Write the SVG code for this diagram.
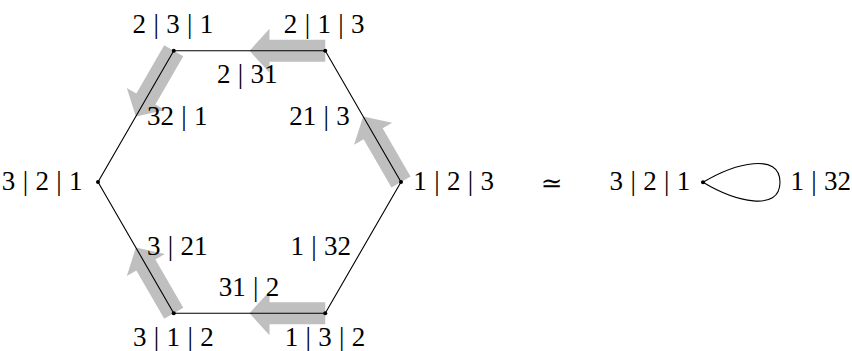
<svg xmlns="http://www.w3.org/2000/svg" xmlns:xlink="http://www.w3.org/1999/xlink" width="852" height="351" viewBox="0 0 852 351">
<style>
.lbl{font-family:"Liberation Serif","Times New Roman",serif;font-size:27px;fill:#000;text-anchor:middle;word-spacing:0.6px}
.sym{font-family:"DejaVu Serif","Liberation Serif",serif;font-size:26px;fill:#000;text-anchor:middle}
.edge{fill:none;stroke:#000;stroke-width:1.1}
.arr{fill:#bfbfbf;stroke:none}
.dot{fill:#000}
</style>
<defs>
<path id="ga" class="arr" d="M0,-11 H55.75 V-22 L75.75,0 L55.75,22 V11 H0 Z"/>
</defs>
<g id="flow-arrows">
<use xlink:href="#ga" href="#ga" transform="translate(325.25,50.8) rotate(180)"/>
<use xlink:href="#ga" href="#ga" transform="translate(173.75,50.8) rotate(120)"/>
<use xlink:href="#ga" href="#ga" transform="translate(401,182) rotate(-120)"/>
<use xlink:href="#ga" href="#ga" transform="translate(325.25,313.2) rotate(180)"/>
<use xlink:href="#ga" href="#ga" transform="translate(173.75,313.2) rotate(-120)"/>
</g>
<g id="connectors">
<path class="edge" d="M173.75,50.8 L325.25,50.8 L401,182 L325.25,313.2 L173.75,313.2 L98,182 Z"/>
<path class="edge" d="M703,182.3 C735,163 780,152 780,182.3 C780,212.6 735,201.6 703,182.3 Z"/>
</g>
<g id="node-231"><circle class="dot" cx="173.75" cy="50.8" r="2"/><text class="lbl" x="172.9" y="33">2 | 3 | 1</text></g>
<g id="node-213"><circle class="dot" cx="325.25" cy="50.8" r="2"/><text class="lbl" x="324.2" y="33">2 | 1 | 3</text></g>
<g id="node-123"><circle class="dot" cx="401" cy="182" r="2"/><text class="lbl" x="453.7" y="190">1 | 2 | 3</text></g>
<g id="node-132"><circle class="dot" cx="325.25" cy="313.2" r="2"/><text class="lbl" x="325" y="346">1 | 3 | 2</text></g>
<g id="node-312"><circle class="dot" cx="173.75" cy="313.2" r="2"/><text class="lbl" x="173.3" y="346">3 | 1 | 2</text></g>
<g id="node-321"><circle class="dot" cx="98" cy="182" r="2"/><text class="lbl" x="42.2" y="190">3 | 2 | 1</text></g>
<g id="edge-labels">
<text class="lbl" x="247.3" y="83">2 | 31</text>
<text class="lbl" x="177.3" y="125">32 | 1</text>
<text class="lbl" x="319.5" y="125">21 | 3</text>
<text class="lbl" x="177.3" y="255">3 | 21</text>
<text class="lbl" x="320.8" y="255">1 | 32</text>
<text class="lbl" x="249" y="296">31 | 2</text>
</g>
<g id="equiv"><text class="sym" x="551.7" y="192">≃</text></g>
<g id="node-321-right"><circle class="dot" cx="703" cy="182.3" r="2"/><text class="lbl" x="649.9" y="190">3 | 2 | 1</text></g>
<g id="node-132-loop"><text class="lbl" x="820.8" y="190">1 | 32</text></g>
</svg>
